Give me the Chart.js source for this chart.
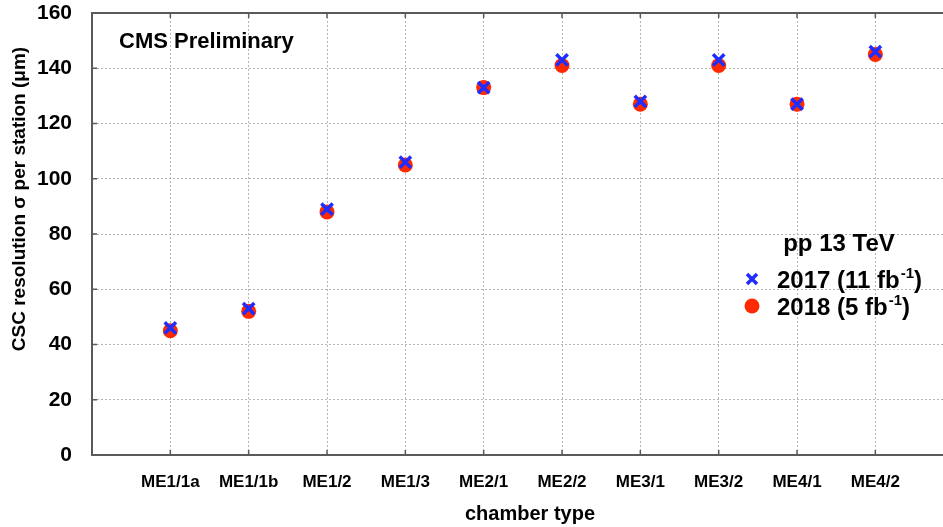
<!DOCTYPE html>
<html>
<head>
<meta charset="utf-8">
<script src="https://cdn.jsdelivr.net/npm/chart.js@4/dist/chart.umd.min.js"></script>
<style>
  html, body { margin: 0; padding: 0; background: #fff; overflow: hidden; }
  /* the plot frame continues past the right edge of the view */
  #wrap { width: 943px; height: 527px; overflow: hidden; }
</style>
</head>
<body>
<div id="wrap"><canvas id="c" width="955" height="527"></canvas></div>
<script>
// Chamber types along the x axis
const chambers = ['ME1/1a', 'ME1/1b', 'ME1/2', 'ME1/3', 'ME2/1', 'ME2/2', 'ME3/1', 'ME3/2', 'ME4/1', 'ME4/2'];
// Resolution per station (μm)
const res2017 = [46, 53, 89, 106, 133, 143, 128, 143, 127, 146];
const res2018 = [45, 52, 88, 105, 133, 141, 127, 141, 127, 145];
const yTicks = [0, 20, 40, 60, 80, 100, 120, 140, 160];

const FONT = '"Liberation Sans", Arial, Helvetica, sans-serif';
const BLUE = '#1f2dff';
const RED = '#ff2a00';
const AXIS = '#5a5a5a';
const toPoints = arr => arr.map((v, i) => ({ x: i + 1, y: v }));

// Frame, inward tick marks, axis titles, text block and legend
const decorations = {
  id: 'decorations',
  afterDraw(chart) {
    const { ctx, chartArea: a, scales } = chart;
    ctx.save();
    ctx.strokeStyle = AXIS;
    ctx.lineWidth = 2;
    ctx.beginPath();
    ctx.moveTo(a.left, a.top);
    ctx.lineTo(a.right, a.top);
    ctx.stroke();

    // short inward ticks
    ctx.lineWidth = 1.5;
    ctx.beginPath();
    chambers.forEach((_, i) => {
      const x = scales.x.getPixelForValue(i + 1);
      ctx.moveTo(x, a.bottom); ctx.lineTo(x, a.bottom - 5);
      ctx.moveTo(x, a.top); ctx.lineTo(x, a.top + 5);
    });
    yTicks.forEach(v => {
      const y = scales.y.getPixelForValue(v);
      ctx.moveTo(a.left, y); ctx.lineTo(a.left + 5, y);
    });
    ctx.stroke();

    ctx.fillStyle = '#000';
    ctx.textBaseline = 'middle';

    // axis titles
    ctx.textAlign = 'center';
    ctx.font = 'bold 20px ' + FONT;
    ctx.fillText('chamber type', 530, 514);
    ctx.save();
    ctx.translate(20, 199);
    ctx.rotate(-Math.PI / 2);
    ctx.font = 'bold 19px ' + FONT;
    ctx.fillText('CSC resolution σ per station (μm)', 0, 0);
    ctx.restore();

    ctx.textAlign = 'left';
    ctx.font = 'bold 22px ' + FONT;
    ctx.fillText('CMS Preliminary', 119, 42);

    ctx.textAlign = 'center';
    ctx.font = 'bold 24px ' + FONT;
    ctx.fillText('pp 13 TeV', 839, 244);

    // legend rows
    const rows = [
      { label: '2017 (11 fb', sup: '-1', tail: ')', y: 281, style: 'cross' },
      { label: '2018 (5 fb', sup: '-1', tail: ')', y: 308, style: 'dot' }
    ];
    rows.forEach(r => {
      if (r.style === 'cross') {
        ctx.strokeStyle = BLUE;
        ctx.lineWidth = 3.5;
        ctx.beginPath();
        ctx.moveTo(747, r.y - 7); ctx.lineTo(757, r.y + 3);
        ctx.moveTo(757, r.y - 7); ctx.lineTo(747, r.y + 3);
        ctx.stroke();
      } else {
        ctx.fillStyle = RED;
        ctx.beginPath();
        ctx.arc(752, r.y - 2, 7.5, 0, Math.PI * 2);
        ctx.fill();
      }
      ctx.fillStyle = '#000';
      ctx.textAlign = 'left';
      let x = 777;
      ctx.font = 'bold 24px ' + FONT;
      ctx.fillText(r.label, x, r.y);
      x += ctx.measureText(r.label).width;
      ctx.font = 'bold 15px ' + FONT;
      ctx.fillText(r.sup, x + 1, r.y - 7);
      x += ctx.measureText(r.sup).width + 1;
      ctx.font = 'bold 24px ' + FONT;
      ctx.fillText(r.tail, x, r.y);
    });
    ctx.restore();
  }
};

new Chart(document.getElementById('c'), {
  type: 'scatter',
  data: {
    datasets: [
      {
        label: '2017 (11 fb⁻¹)',
        data: toPoints(res2017),
        pointStyle: 'crossRot',
        radius: 8,
        borderWidth: 3.5,
        borderColor: BLUE,
        backgroundColor: BLUE
      },
      {
        label: '2018 (5 fb⁻¹)',
        data: toPoints(res2018),
        pointStyle: 'circle',
        radius: 7.5,
        borderWidth: 0,
        borderColor: RED,
        backgroundColor: RED
      }
    ]
  },
  options: {
    responsive: false,
    animation: false,
    layout: { padding: { top: 13, right: 0, left: 0, bottom: 0 } },
    plugins: { legend: { display: false }, tooltip: { enabled: false } },
    scales: {
      x: {
        type: 'linear',
        min: 0,
        max: 10.87,
        afterBuildTicks: s => { s.ticks = chambers.map((_, i) => ({ value: i + 1 })); },
        afterFit: s => { s.height = 72; s.paddingLeft = 0; s.paddingRight = 0; },
        ticks: {
          callback: v => chambers[v - 1] || '',
          color: '#000',
          font: { family: FONT, weight: 'bold', size: 17 },
          padding: 17,
          maxRotation: 0,
          autoSkip: false
        },
        grid: { color: '#b4b4b4', lineWidth: 1, drawTicks: false },
        border: { color: AXIS, width: 2, dash: [2, 2] }
      },
      y: {
        min: 0,
        max: 160,
        afterBuildTicks: s => { s.ticks = yTicks.map(v => ({ value: v })); },
        afterFit: s => { s.width = 92; s.paddingTop = 0; s.paddingBottom = 0; },
        ticks: {
          color: '#000',
          font: { family: FONT, weight: 'bold', size: 21 },
          padding: 20
        },
        grid: {
          color: c => (c.tick && (c.tick.value === 0 || c.tick.value === 160)) ? 'rgba(0,0,0,0)' : '#b4b4b4',
          lineWidth: 1,
          drawTicks: false
        },
        border: { color: AXIS, width: 2, dash: [2, 2] }
      }
    }
  },
  plugins: [decorations]
});
</script>
</body>
</html>
